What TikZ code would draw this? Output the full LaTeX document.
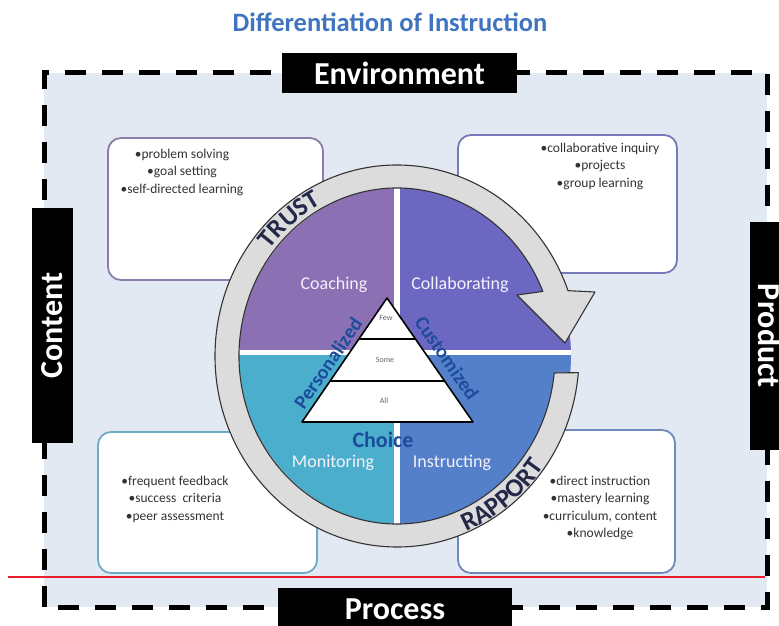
\documentclass[tikz,border=0pt]{standalone}
\usepackage{fontspec}
\setmainfont{Carlito}
\usetikzlibrary{calc, positioning, decorations.text}

% palette
\definecolor{pagebg}{RGB}{226,233,243}
\definecolor{titleblue}{RGB}{64,116,192}
\definecolor{coachpurple}{RGB}{140,112,180}
\definecolor{collabviolet}{RGB}{108,104,194}
\definecolor{monitorteal}{RGB}{74,174,204}
\definecolor{instructblue}{RGB}{84,128,202}
\definecolor{ringgray}{RGB}{220,220,220}
\definecolor{ringink}{RGB}{36,40,72}
\definecolor{pyramidblue}{RGB}{28,76,156}
\definecolor{rulered}{RGB}{235,30,45}
\definecolor{coachedge}{RGB}{140,124,172}
\definecolor{collabedge}{RGB}{118,122,186}
\definecolor{monitoredge}{RGB}{108,172,196}
\definecolor{instructedge}{RGB}{108,138,186}

\tikzset{
  tagbox/.style={fill=black, text=white, inner sep=0pt,
    font=\bfseries\fontsize{32}{32}\selectfont},
  notebox/.style={draw=#1, line width=1.8pt, fill=white, rounded corners=13pt},
  notetext/.style={align=center, text=black!80, font=\fontsize{13.5}{17.5}\selectfont},
  quadlabel/.style={text=white!90!coachpurple, font=\fontsize{18}{18}\selectfont},
  tierlabel/.style={text=black!60, font=\fontsize{8}{8}\selectfont},
  edgelabel/.style={text=pyramidblue, font=\bfseries\fontsize{20}{20}\selectfont},
}

\begin{document}
\begin{tikzpicture}[x=1pt, y=1pt]
\useasboundingbox (0,0) rectangle (779,625);

% ring centre (outer radii 182/191, inner radii 158/168)
\coordinate (ringc) at (397,269);

% framed background
\fill[pagebg] (44,18) rectangle (767,552);
\draw[line width=5pt, dash pattern=on 21pt off 16pt] (44,18) rectangle (767,552);

% --- the four note boxes ---
\node[notebox=coachedge, minimum width=215pt, minimum height=142pt] (coachbox) at (215.5,416) {};
\node[notebox=collabedge, minimum width=219pt, minimum height=138pt] (collabbox) at (567.5,421) {};
\node[notebox=monitoredge, minimum width=219pt, minimum height=141pt] (monitorbox) at (207.5,122.5) {};
\node[notebox=instructedge, minimum width=217pt, minimum height=143pt] (instructbox) at (566.5,123.5) {};

\node[notetext] (coachnotes) at (182,453) {•problem solving\\•goal setting\\•self-directed learning};
\node[notetext] (collabnotes) at (600,459) {•collaborative inquiry\\•projects\\•group learning};
\node[notetext] (monitornotes) at (175,126) {•frequent feedback\\•success\ \ criteria\\•peer assessment};
\node[notetext] (instructnotes) at (600,117) {•direct instruction\\•mastery learning\\•curriculum, content\\•knowledge};

% --- pie of four quadrants ---
\begin{scope}
  \clip (405,269) ellipse [x radius=166pt, y radius=170pt];
  \fill[coachpurple] (200,273) rectangle (397,460);
  \fill[collabviolet] (397,273) rectangle (600,460);
  \fill[monitorteal] (200,273) rectangle (397,80);
  \fill[instructblue] (397,273) rectangle (600,80);
  \draw[white, line width=6pt] (397,80) -- (397,460);
  \draw[white, line width=5pt] (200,273) -- (600,273);
\end{scope}

% ring arrow, running clockwise from the tail to the head
\draw[fill=ringgray, draw=black!80, line width=1.1pt, line join=round]
  ($(ringc)+(-5:182pt and 191pt)$)
  arc[start angle=-5, end angle=-340, x radius=182pt, y radius=191pt]
  -- (595,333) -- (565,282) -- (517,330)
  -- ($(ringc)+(-337.4:158pt and 168pt)$)
  arc[start angle=-337.4, end angle=-5.8, x radius=158pt, y radius=168pt]
  -- cycle;

% words set along the ring
\path[decorate, decoration={text along path, text align=center,
    text={|\color{ringink}\bfseries\fontsize{26}{26}\selectfont|TRUST}}]
  ($(ringc)+(169:162pt and 172pt)$)
  arc[start angle=169, end angle=89, x radius=162pt, y radius=172pt];
\path[decorate, decoration={text along path, text align=center,
    text={|\color{ringink}\bfseries\fontsize{26}{26}\selectfont|RAPPORT}}]
  ($(ringc)+(-92:181pt and 190pt)$)
  arc[start angle=-92, end angle=-12, x radius=181pt, y radius=190pt];

% quadrant names
\node[quadlabel] (coaching) at (334,340) {Coaching};
\node[quadlabel] (collaborating) at (460,340) {Collaborating};
\node[quadlabel] (monitoring) at (333,162) {Monitoring};
\node[quadlabel] (instructing) at (452,162) {Instructing};

% --- pyramid in the middle ---
\coordinate (apex) at (387,327);
\coordinate (baseL) at (302,203);
\coordinate (baseR) at (473,203);
\draw[fill=white, line width=1.6pt, line join=round] (apex) -- (baseL) -- (baseR) -- cycle;
\draw[line width=1.6pt] ($(baseL)!0.33!(apex)$) -- ($(baseR)!0.33!(apex)$);
\draw[line width=1.6pt] ($(baseL)!0.67!(apex)$) -- ($(baseR)!0.67!(apex)$);

\node[edgelabel, rotate=55.6] (personalized) at (328,262) {Personalized};
\node[edgelabel, rotate=-55.3] (customized) at (447,267) {Customized};
\node[edgelabel, font=\bfseries\fontsize{22}{22}\selectfont] (choice) at (383,185) {Choice};

\node[tierlabel] (few) at (386,307) {Few};
\node[tierlabel] (some) at (385,265) {Some};
\node[tierlabel] (all) at (384,224) {All};

% --- labels on the frame ---
\node[tagbox, minimum width=235pt, minimum height=40pt] (environment) at (399.5,552) {Environment};
\node[tagbox, minimum width=234pt, minimum height=42pt] (process) at (395,16) {Process};
\node[tagbox, rotate=90, minimum width=235pt, minimum height=41pt] (content) at (52.5,299.5) {Content};
\node[tagbox, rotate=-90, minimum width=228pt, minimum height=40pt] (product) at (770,289) {Product};

\node[text=titleblue, font=\bfseries\fontsize{26.5}{26.5}\selectfont] (title) at (390,603) {Differentiation of Instruction};

% red rule near the bottom
\draw[rulered, line width=1.4pt] (8,48) -- (765,48);

\end{tikzpicture}
\end{document}
